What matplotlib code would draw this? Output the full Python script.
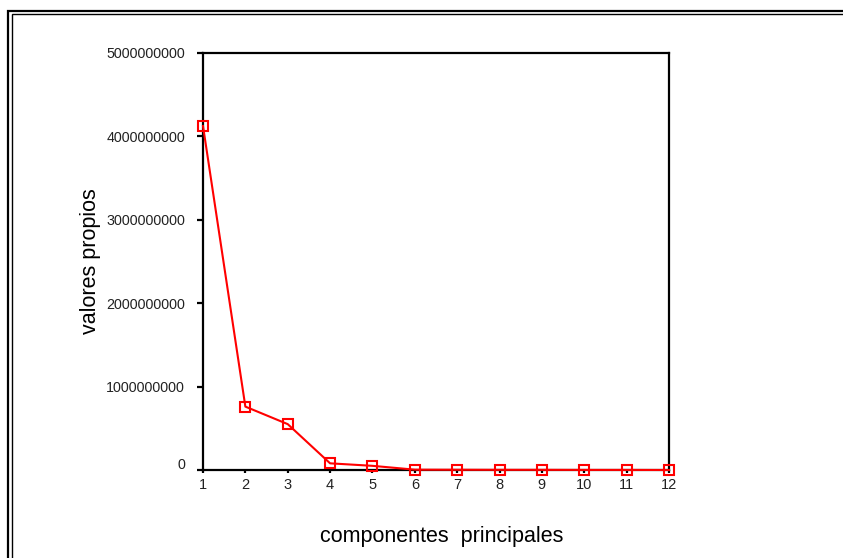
import matplotlib.pyplot as plt
from matplotlib.patches import Rectangle
import matplotlib.transforms as mtransforms

plt.rcParams['font.family'] = ['Liberation Sans', 'DejaVu Sans']

componentes = [1, 2, 3, 4, 5, 6, 7, 8, 9, 10, 11, 12]
valores = [4.125e9, 0.76e9, 0.55e9, 0.08e9, 0.05e9, 0.004e9,
           0.003e9, 0.002e9, 0.002e9, 0.001e9, 0.001e9, 0.0e9]
yticks = [0, 1e9, 2e9, 3e9, 4e9, 5e9]
ytick_labels = ['0', '1000000000', '2000000000', '3000000000', '4000000000', '5000000000']

W, H = 843, 558
fig = plt.figure(figsize=(W / 100, H / 100), dpi=100)
ax = fig.add_axes([203 / W, 1 - 470 / H, (669 - 203) / W, (470 - 53) / H])

ax.plot(componentes, valores, color='#ff0000', lw=1.5, marker='s', ms=7,
        mfc='none', mec='#ff0000', mew=1.5, clip_on=False, zorder=5)

ax.set_xlim(1, 12)
ax.set_ylim(0, 5e9)
ax.set_xticks(componentes)
ax.set_xticklabels([str(c) for c in componentes])
ax.set_yticks(yticks)
ax.set_yticklabels(ytick_labels)

for s in ax.spines.values():
    s.set_linewidth(1.6)
    s.set_color('black')
ax.tick_params(axis='y', direction='out', length=4, width=1.6, pad=9, labelsize=10.3, colors='black')
ax.tick_params(axis='x', direction='out', length=2, width=1.6, pad=4, labelsize=10.5, colors='black')
for lab in ax.get_yticklabels() + ax.get_xticklabels():
    lab.set_color('#222222')

# el "0" del eje y va un poco mas arriba
off = mtransforms.ScaledTranslation(0, 5 / 72, fig.dpi_scale_trans)
ylabs = ax.get_yticklabels()
ylabs[0].set_transform(ylabs[0].get_transform() + off)

ax.set_xlabel('componentes  principales', fontsize=15.5, labelpad=24)
ax.xaxis.label.set_x(0.5 + 6 / 466)
ax.set_ylabel('valores propios', fontsize=15.5, labelpad=4)

# marco doble
fig.patches.append(Rectangle((7.5 / W, -0.5), 2, 1.5 - 10.5 / H, transform=fig.transFigure,
                             fill=False, ec='black', lw=1.6))
fig.patches.append(Rectangle((11.5 / W, -0.5), 2, 1.5 - 14 / H, transform=fig.transFigure,
                             fill=False, ec='black', lw=1.0))

fig.savefig('out.png', dpi=100)
